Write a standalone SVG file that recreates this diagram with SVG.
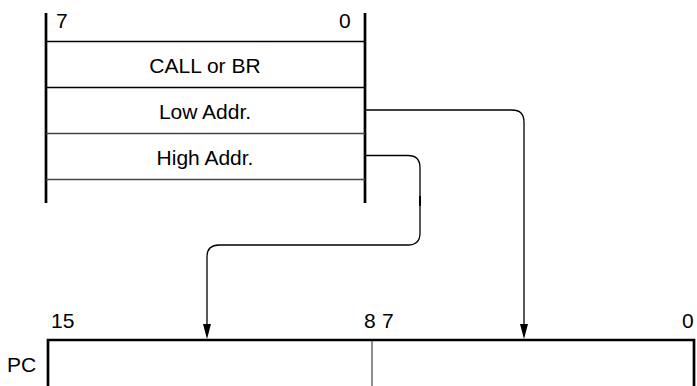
<svg xmlns="http://www.w3.org/2000/svg" width="697" height="386" viewBox="0 0 697 386">
<defs>
<style>
.t{font-family:"Liberation Sans",Arial,sans-serif;font-size:21px;fill:#000}
.thick{stroke:#000;stroke-width:2.7;fill:none}
.thin{stroke:#000;stroke-width:1.3;fill:none}
.grey{stroke:#444;stroke-width:1.5;fill:none}
.conn{stroke:#000;stroke-width:1.3;fill:none}
.head{fill:#000}
</style>
</defs>
<rect width="697" height="386" fill="#fff"/>
<g id="memory">
<line class="thick" x1="46" y1="13" x2="46" y2="203"/>
<line class="thick" x1="365" y1="13" x2="365" y2="203"/>
<line class="thin" x1="46" y1="41.5" x2="365" y2="41.5"/>
<line class="thin" x1="46" y1="87.5" x2="365" y2="87.5"/>
<line class="grey" x1="46" y1="133.5" x2="365" y2="133.5"/>
<line class="grey" x1="46" y1="179.5" x2="365" y2="179.5"/>
<text class="t" x="56" y="28">7</text>
<text class="t" x="339" y="28">0</text>
<text class="t" x="205" y="73" text-anchor="middle">CALL or BR</text>
<text class="t" x="205" y="119" text-anchor="middle">Low Addr.</text>
<text class="t" x="205" y="165" text-anchor="middle">High Addr.</text>
</g>
<g id="pc">
<path class="thick" d="M48,390 V340 H694 V390"/>
<line x1="372" y1="341" x2="372" y2="390" stroke="#444" stroke-width="1.2"/>
<text class="t" x="7" y="372">PC</text>
<text class="t" x="51" y="328">15</text>
<text class="t" x="364" y="328">8</text>
<text class="t" x="382" y="328">7</text>
<text class="t" x="682" y="328">0</text>
</g>
<g id="connectors">
<path class="conn" d="M365,110 H512 Q524,110 524,122 V324"/>
<path class="head" d="M520,324 L528,324 L524,339 Z"/>
<path class="conn" d="M365,155.5 H408 Q420,155.5 420,167.5 V233 Q420,245 408,245 H219 Q207,245 207,257 V324"/>
<line x1="420" y1="196" x2="420" y2="206" stroke="#000" stroke-width="2"/>
<path class="head" d="M203,324 L211,324 L207,339 Z"/>
</g>
</svg>
